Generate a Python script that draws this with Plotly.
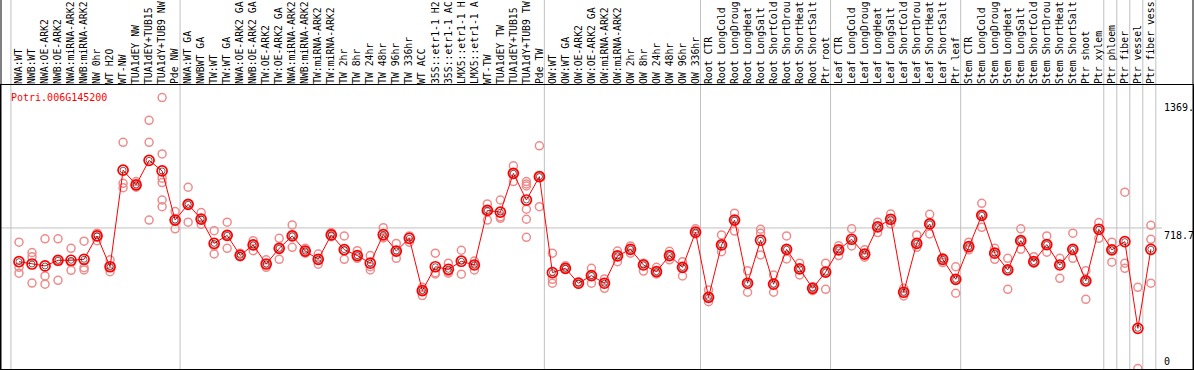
import plotly.graph_objects as go

labels = [
    "NWA:WT", "NWB:WT", "NWA:OE-ARK2", "NWB:OE-ARK2", "NWA:miRNA-ARK2", "NWB:miRNA-ARK2",
    "NW 0hr", "WT H2O", "WT-NW", "TUA1dEY NW", "TUA1dEY+TUB15 NW", "TUA1dY+TUB9 NW", "Pde NW",
    "NWA:WT GA", "NWBWT GA", "TW:WT", "TW:WT GA", "NWA:OE-ARK2 GA", "NWB:OE-ARK2 GA",
    "TW:OE-ARK2", "TW:OE-ARK2 GA", "NWA:miRNA-ARK2", "NWB:miRNA-ARK2", "TW:miRNA-ARK2",
    "TW:miRNA-ARK2", "TW 2hr", "TW 8hr", "TW 24hr", "TW 48hr", "TW 96hr", "TW 336hr",
    "WT ACC", "35S::etr1-1 H2O", "35S::etr1-1 ACC", "LMX5::etr1-1 H2O", "LMX5::etr1-1 ACC",
    "WT-TW", "TUA1dEY TW", "TUA1dEY+TUB15 TW", "TUA1dY+TUB9 TW", "Pde TW",
    "OW:WT", "OW:WT GA", "OW:OE-ARK2", "OW:OE-ARK2 GA", "OW:miRNA-ARK2", "OW:miRNA-ARK2",
    "OW 2hr", "OW 8hr", "OW 24hr", "OW 48hr", "OW 96hr", "OW 336hr",
    "Root CTR", "Root LongCold", "Root LongDrought", "Root LongHeat", "Root LongSalt",
    "Root ShortCold", "Root ShortDrought", "Root ShortHeat", "Root ShortSalt", "Ptr root",
    "Leaf CTR", "Leaf LongCold", "Leaf LongDrought", "Leaf LongHeat", "Leaf LongSalt",
    "Leaf ShortCold", "Leaf ShortDrought", "Leaf ShortHeat", "Leaf ShortSalt", "Ptr leaf",
    "Stem CTR", "Stem LongCold", "Stem LongDrought", "Stem LongHeat", "Stem LongSalt",
    "Stem ShortCold", "Stem ShortDrought", "Stem ShortHeat", "Stem ShortSalt", "Ptr shoot",
    "Ptr xylem", "Ptr phloem", "Ptr fiber", "Ptr vessel", "Ptr fiber vessel",
]

means = [
    547, 535, 525, 554, 554, 559, 678, 521, 1013, 938, 1063, 1009, 759,
    839, 764, 640, 681, 579, 632, 535, 615, 678, 601, 559, 683, 608, 578, 539,
    685, 601, 666, 399, 521, 508, 549, 530, 808, 799, 997, 861, 980,
    491, 513, 437, 476, 437, 576, 610, 530, 496, 578, 518, 697,
    365, 632, 759, 437, 656, 432, 610, 510, 411, 494,
    607, 661, 585, 724, 763, 391, 640, 739, 559, 457,
    623, 783, 590, 505, 654, 547, 634, 530, 610, 449,
    712, 607, 649, 207, 610,
]

replicates = [
    [646, 518, 488], [593, 572, 438], [663, 474, 432], [663, 452, 554], [615, 542, 503],
    [651, 516, 505], [692, 674, 654], [556, 521, 496], [1155, 946, 924], [955, 938, 926],
    [1267, 1155, 759], [1383, 1096, 972, 950, 861, 827], [802, 759, 714],
    [926, 748, 839], [797, 737, 764], [705, 627, 586], [748, 615, 681], [590, 576, 572],
    [654, 603, 632], [556, 518, 535], [666, 559, 615], [734, 678, 620], [615, 601, 590],
    [586, 534, 559], [695, 674, 683], [678, 559, 603], [603, 564, 578], [578, 521, 505],
    [720, 668, 674], [640, 564, 601], [678, 646, 674], [416, 374, 399], [590, 491, 484],
    [539, 488, 496], [605, 483, 556], [550, 505, 530], [841, 759, 808], [861, 768, 776],
    [1035, 955, 997], [955, 943, 933, 814, 763, 671], [1137, 827, 980],
    [590, 457, 437], [526, 508, 513], [445, 432, 437], [513, 437, 478], [459, 411, 437],
    [601, 547, 576], [627, 590, 610], [539, 499, 530], [518, 484, 496], [600, 556, 578],
    [547, 474, 518], [714, 688, 697],
    [403, 343, 365], [683, 598, 632], [794, 703, 759], [501, 391, 437], [712, 692, 581],
    [479, 391, 432], [678, 561, 610], [539, 479, 510], [419, 399, 411], [539, 406, 494],
    [628, 578, 607], [714, 627, 661], [607, 585, 570], [748, 695, 724], [790, 739, 763],
    [411, 372, 391], [683, 620, 640], [788, 688, 739], [567, 542, 559], [521, 386, 457],
    [646, 607, 623], [844, 722, 783], [615, 559, 590], [564, 406, 505], [714, 610, 654],
    [572, 539, 547], [678, 595, 634], [564, 462, 530], [692, 564, 610], [501, 355, 449],
    [746, 666, 712], [646, 544, 607], [901, 539, 513], [416, 2], [732, 661, 437],
]

# last index of each group (gridline drawn after it), plus one before the first sample
group_ends = [-1, 12, 40, 52, 62, 72, 83, 84, 85, 86, 87]

y_ticks = [0, 718.7, 1369]
y_ticktext = ["0", "718.7", "1369."]
gene = "Potri.006G145200"

W, H = 1194, 370
ML, MR, MT, MB = 1, 1, 85, 1
plot_h = H - MT - MB
FONT = "DejaVu Sans Mono"
MAX_CHARS = 14  # the header band only has room for this many characters

shown_labels = [s[:MAX_CHARS] for s in labels]

xs = list(range(len(labels)))
rx, ry = [], []
for i, reps in enumerate(replicates):
    for v in reps:
        rx.append(i)
        ry.append(v)

fig = go.Figure()
fig.add_trace(go.Scatter(
    x=rx, y=ry, mode="markers", hoverinfo="skip",
    marker=dict(symbol="circle-open", size=8, color="#ee8c8c", line=dict(width=1.5)),
))
fig.add_trace(go.Scatter(
    x=xs, y=means, mode="lines", line=dict(color="#ff0000", width=1), hoverinfo="skip",
))
fig.add_trace(go.Scatter(
    x=xs, y=means, mode="markers", hoverinfo="skip",
    marker=dict(symbol="circle-open", size=10, color="#ff0000", line=dict(width=1.7)),
))
fig.add_trace(go.Scatter(
    x=xs, y=means, mode="markers", hoverinfo="skip",
    marker=dict(symbol="circle-open", size=6, color="#000000", line=dict(width=0.6)),
))

top_paper = 1 + MT / plot_h
shapes = []
for e in group_ends:
    gx = e + 0.5 - 0.12
    shapes.append(dict(type="line", xref="x", yref="paper", x0=gx, x1=gx, y0=0, y1=top_paper,
                       line=dict(color="#c0c0c0", width=1), layer="below"))
label_x = (1162 - ML) / (W - ML - MR)
shapes.append(dict(type="line", xref="paper", yref="y", x0=0, x1=label_x, y0=y_ticks[1], y1=y_ticks[1],
                   line=dict(color="#c0c0c0", width=1), layer="below"))
for px in (0, 1):
    shapes.append(dict(type="line", xref="paper", yref="paper", x0=px, x1=px, y0=0, y1=top_paper,
                       line=dict(color="#000000", width=1)))

annotations = [dict(xref="paper", yref="paper", x=(9 - ML) / (W - ML - MR), y=(H - MB - 97) / plot_h,
                    text=gene, showarrow=False, xanchor="left", yanchor="middle",
                    font=dict(family=FONT, size=10, color="#ff0000"))]
for v, t in zip(y_ticks, y_ticktext):
    annotations.append(dict(xref="paper", yref="y", x=label_x, y=v, text=t, showarrow=False,
                            xanchor="left", yanchor="bottom" if v == 0 else "top",
                            font=dict(family=FONT, size=10, color="#000000")))

x0 = -18 / 13.01
x1 = x0 + (W - ML - MR) / 13.01
fig.update_layout(
    template="none",
    width=W, height=H, margin=dict(l=ML, r=MR, t=MT, b=MB, pad=0, autoexpand=False),
    paper_bgcolor="white", plot_bgcolor="white", showlegend=False,
    shapes=shapes, annotations=annotations,
    xaxis=dict(side="top", range=[x0, x1], tickmode="array", tickvals=xs, ticktext=shown_labels,
               tickangle=-90, showgrid=False, zeroline=False, showline=True, mirror=True,
               linecolor="#000000", linewidth=1, ticks="", automargin=False,
               ticklabelstandoff=-2,
               tickfont=dict(family=FONT, size=9.8, color="#000000")),
    yaxis=dict(range=[0, 1447], showgrid=False, zeroline=False, showticklabels=False,
               showline=True, mirror=True, linecolor="#000000", linewidth=1, ticks="",
               automargin=False),
)
fig.write_html("out.html", config={"displayModeBar": False},
               post_script="document.body.style.margin='0';document.body.style.overflow='hidden';")
